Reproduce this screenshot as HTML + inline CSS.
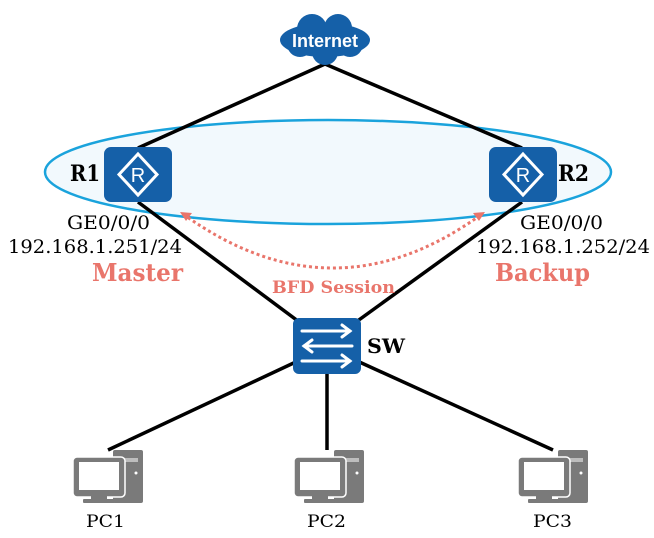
<!DOCTYPE html>
<html><head><meta charset="utf-8"><style>
html,body{margin:0;padding:0;background:#fff;width:654px;height:538px;overflow:hidden}
svg{display:block}
</style></head><body>
<svg width="654" height="538" viewBox="0 0 654 538" xmlns="http://www.w3.org/2000/svg">
<defs>
<g id="pc">
  <rect x="40" y="0" width="30" height="53" rx="2" fill="#7a7a7a"/>
  <rect x="45" y="8" width="20" height="4" fill="#fff" opacity="0.5"/>
  <circle cx="63" cy="23" r="1.5" fill="#fff"/>
  <rect x="0" y="7" width="52" height="40" rx="4" fill="#7a7a7a" stroke="#fff" stroke-width="1.5"/>
  <rect x="6" y="12" width="40" height="28" fill="#fff"/>
  <rect x="18" y="46" width="16" height="4" fill="#7a7a7a"/>
  <rect x="10" y="49" width="32" height="4" rx="1" fill="#7a7a7a"/>
</g>
<g id="router">
  <rect x="0" y="0" width="68" height="55" rx="7" fill="#1560a8"/>
  <polygon points="34,7 53,27.5 34,48 15,27.5" fill="none" stroke="#fff" stroke-width="3"/>
  <text x="34" y="35" text-anchor="middle" font-family="Liberation Sans, sans-serif" font-size="20" fill="#fff">R</text>
</g>
</defs>

<ellipse cx="328" cy="172" rx="283" ry="52" fill="#f2f9fd" stroke="#1aa3dc" stroke-width="2.5"/>

<g stroke="#000" stroke-width="3.5" fill="none">
  <line x1="325" y1="64" x2="138" y2="148"/>
  <line x1="325" y1="64" x2="522" y2="148"/>
  <line x1="138" y1="202" x2="310" y2="330"/>
  <line x1="522" y1="202" x2="345" y2="330"/>
  <line x1="300" y1="360" x2="108" y2="450"/>
  <line x1="327" y1="370" x2="327" y2="450"/>
  <line x1="355" y1="360" x2="553" y2="450"/>
</g>

<g fill="#1560a8">
  <ellipse cx="325" cy="40" rx="45" ry="17"/>
  <circle cx="312" cy="29" r="15"/>
  <circle cx="338" cy="28" r="14"/>
  <circle cx="300" cy="44" r="13"/>
  <circle cx="350" cy="44" r="13"/>
  <circle cx="325" cy="52" r="13"/>
</g>
<text x="325" y="47" text-anchor="middle" font-family="Liberation Sans, sans-serif" font-weight="bold" font-size="18" fill="#fff">Internet</text>

<use href="#router" x="104" y="147"/>
<use href="#router" x="489" y="147"/>

<rect x="293" y="318" width="68" height="56" rx="6" fill="#1560a8"/>
<g stroke="#fff" stroke-width="3" fill="none" stroke-linecap="round">
  <line x1="302" y1="331" x2="350" y2="331"/><polyline points="342,325 350,331 342,337"/>
  <line x1="304" y1="346" x2="352" y2="346"/><polyline points="312,340 304,346 312,352"/>
  <line x1="302" y1="361" x2="350" y2="361"/><polyline points="342,355 350,361 342,367"/>
</g>

<use href="#pc" x="73" y="450"/>
<use href="#pc" x="294" y="450"/>
<use href="#pc" x="518" y="450"/>

<path d="M183,214 Q333,322 482,214" fill="none" stroke="#e9756b" stroke-width="3" stroke-dasharray="3,3"/>
<polygon points="180,212 192,213 186,221" fill="#e9756b"/>
<polygon points="485,212 473,213 479,221" fill="#e9756b"/>

<g font-family="DejaVu Serif, Liberation Serif, serif" fill="#000">
  <text x="70" y="181" font-size="22" font-weight="bold" textLength="30" lengthAdjust="spacingAndGlyphs">R1</text>
  <text x="558" y="181" font-size="22" font-weight="bold" textLength="31" lengthAdjust="spacingAndGlyphs">R2</text>
  <text x="367" y="353" font-size="20" font-weight="bold" textLength="38" lengthAdjust="spacingAndGlyphs">SW</text>
  <text x="67" y="229" font-size="19" textLength="83" lengthAdjust="spacingAndGlyphs">GE0/0/0</text>
  <text x="8" y="253" font-size="19" textLength="174" lengthAdjust="spacingAndGlyphs">192.168.1.251/24</text>
  <text x="520" y="229" font-size="19" textLength="83" lengthAdjust="spacingAndGlyphs">GE0/0/0</text>
  <text x="476" y="253" font-size="19" textLength="174" lengthAdjust="spacingAndGlyphs">192.168.1.252/24</text>
  <text x="86" y="527" font-size="17" textLength="39" lengthAdjust="spacingAndGlyphs">PC1</text>
  <text x="307" y="527" font-size="17" textLength="39" lengthAdjust="spacingAndGlyphs">PC2</text>
  <text x="533" y="527" font-size="17" textLength="39" lengthAdjust="spacingAndGlyphs">PC3</text>
</g>
<g font-family="DejaVu Serif, Liberation Serif, serif" fill="#e9756b" font-weight="bold">
  <text x="92" y="281" font-size="24" textLength="91" lengthAdjust="spacingAndGlyphs">Master</text>
  <text x="495" y="281" font-size="24" textLength="95" lengthAdjust="spacingAndGlyphs">Backup</text>
  <text x="272" y="293" font-size="17" textLength="123" lengthAdjust="spacingAndGlyphs">BFD Session</text>
</g>
</svg>
</body></html>
